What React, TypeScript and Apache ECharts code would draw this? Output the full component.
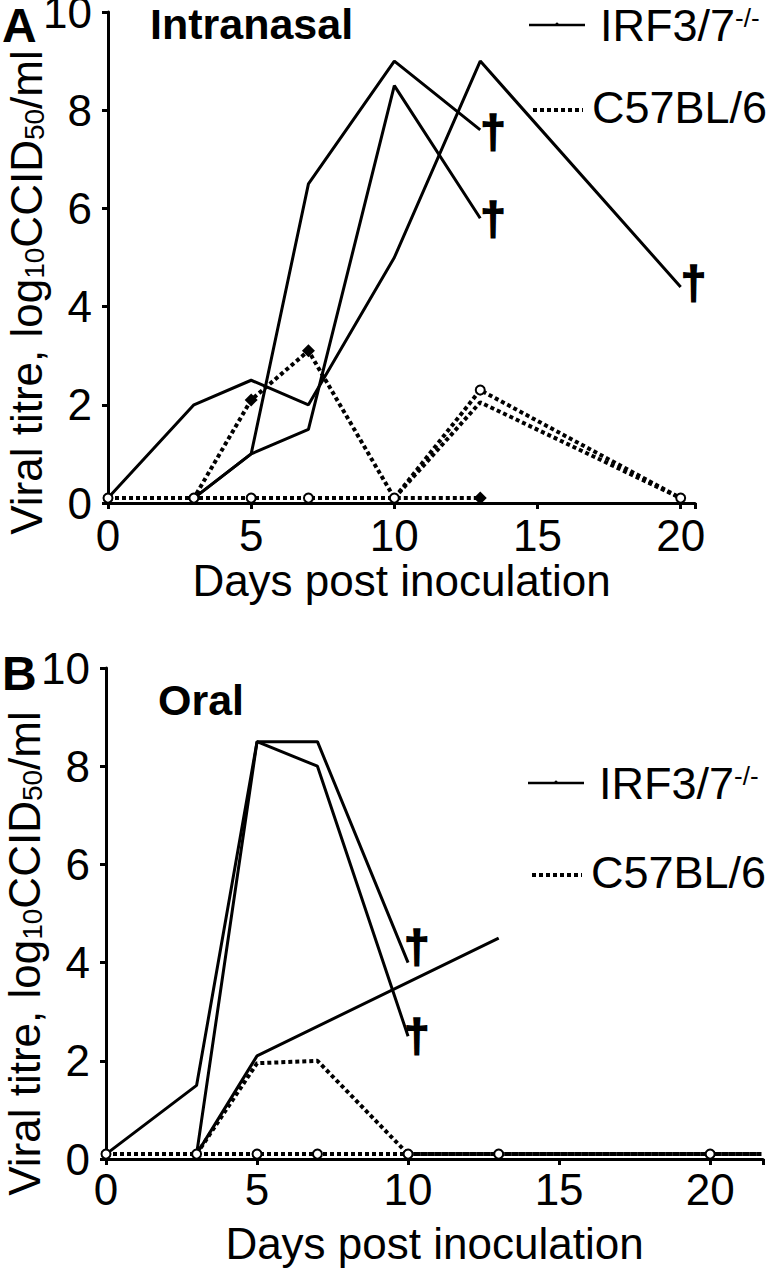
import React, { useEffect, useRef } from "react";
import * as echarts from "echarts";

// ---------- data ----------
const xTicks = [0, 5, 10, 15, 20];
const yTicks = [0, 2, 4, 6, 8, 10];

// Panel A – Intranasal (day, log10 CCID50/ml)
const irfA1 = [[0, 0.1], [3, 2.0], [5, 2.5], [7, 2.0], [10, 5.0], [13, 9.0], [20, 4.4]];
const irfA2 = [[3, 0.1], [5, 1.0], [7, 6.5], [10, 9.0], [13, 7.6]];
const irfA3 = [[3, 0.1], [5, 1.0], [7, 1.5], [10, 8.5], [13, 5.8]];
const c57A1 = [[0, 0.1], [3, 0.1], [5, 2.1], [7, 3.1], [10, 0.1], [13, 0.1]];
const c57A1Marked = [5, 7, 13];
const c57A2 = [[0, 0.1], [3, 0.1], [5, 0.1], [7, 0.1], [10, 0.1], [13, 2.3], [20, 0.1]];
const c57A2Marked = [0, 3, 5, 7, 10, 13, 20];
const c57A3 = [[10, 0.1], [13, 2.05], [20, 0.1]];

// Panel B – Oral
const irfB1 = [[0, 0.1], [3, 1.5], [5, 8.5], [7, 8.5], [10, 4.0]];
const irfB2 = [[3, 0.1], [5, 8.5], [7, 8.0], [10, 2.5]];
const irfB3 = [[3, 0.1], [5, 2.1], [13, 4.5]];
const c57B1 = [[0, 0.1], [3, 0.1], [5, 1.95], [7, 2.0], [10, 0.1], [13, 0.1], [20, 0.1], [21.7, 0.1]];
const c57B2 = [[0, 0.1], [3, 0.1], [5, 0.1], [7, 0.1], [10, 0.1], [13, 0.1], [20, 0.1], [21.7, 0.1]];
const c57B2Marked = [0, 3, 5, 7, 10, 13, 20];

const FONT = "Liberation Sans, Arial, sans-serif";
const BLACK = "#000";

function solid(data: number[][], gi: number, dagger?: number[]) {
  return {
    type: "line",
    xAxisIndex: gi,
    yAxisIndex: gi,
    data,
    showSymbol: false,
    symbol: "none",
    lineStyle: { color: BLACK, width: 3 },
    z: 3,
    endLabel: dagger
      ? {
          show: true,
          formatter: "\u2020",
          distance: 2,
          offset: dagger,
          fontSize: 46,
          fontWeight: 900,
          fontFamily: FONT,
          color: BLACK,
          textBorderColor: BLACK,
          textBorderWidth: 1.5,
        }
      : { show: false },
  };
}

function dotted(data: number[][], gi: number, symbol: string, marked: number[] | null, size: number) {
  return {
    type: "line",
    xAxisIndex: gi,
    yAxisIndex: gi,
    symbol,
    symbolSize: 0,
    showSymbol: true,
    data: data.map((p) =>
      marked && marked.indexOf(p[0]) >= 0 ? { value: p, symbolSize: size } : { value: p, symbolSize: 0 }
    ),
    lineStyle: { color: BLACK, width: 4, type: [4, 3] },
    itemStyle: { color: BLACK, borderWidth: symbol === "emptyCircle" ? 2 : 0 },
    z: 4,
  };
}

function xAxis(gi: number, max: number, gap: number, margin: number) {
  return {
    type: "value",
    gridIndex: gi,
    min: 0,
    max,
    interval: 5,
    name: "Days post inoculation",
    nameLocation: "middle",
    nameGap: gap,
    nameMoveOverlap: false,
    nameTextStyle: { fontSize: 44, color: BLACK, fontFamily: FONT },
    axisLine: { show: true, lineStyle: { color: BLACK, width: 3 } },
    axisTick: { show: true, length: 6, lineStyle: { color: BLACK, width: 3 } },
    axisLabel: {
      fontSize: 44,
      color: BLACK,
      fontFamily: FONT,
      margin,
      formatter: (v: number) => (xTicks.indexOf(v) >= 0 ? String(v) : ""),
    },
    splitLine: { show: false },
  };
}

function yAxis(gi: number, shift: number) {
  return {
    type: "value",
    gridIndex: gi,
    min: 0,
    max: 10,
    interval: 2,
    name: "{n|Viral titre, log}{s|10}{n|CCID}{s|50}{n|/ml}",
    nameLocation: "middle",
    nameRotate: 90,
    nameGap: 60,
    nameMoveOverlap: false,
    nameTextStyle: {
      fontFamily: FONT,
      color: BLACK,
      padding: [0, shift, 0, 0],
      rich: {
        n: { fontSize: 44, lineHeight: 44, fontFamily: FONT, color: BLACK },
        s: { fontSize: 28, lineHeight: 20, verticalAlign: "bottom", fontFamily: FONT, color: BLACK },
      },
    },
    axisLine: { show: true, lineStyle: { color: BLACK, width: 3 } },
    axisTick: { show: true, length: 6, lineStyle: { color: BLACK, width: 3 } },
    axisLabel: {
      fontSize: 44,
      lineHeight: 24,
      padding: [8, 0, 0, 0],
      color: BLACK,
      fontFamily: FONT,
      margin: 16,
      formatter: (v: number) => (yTicks.indexOf(v) >= 0 ? String(v) : ""),
    },
    splitLine: { show: false },
  };
}

function legend(ySolid: number, yDash: number, x0: number) {
  const supRich = {
    a: { fontSize: 45, lineHeight: 40, fontFamily: FONT, fill: BLACK },
    b: { fontSize: 26, lineHeight: 18, verticalAlign: "top", fontFamily: FONT, fill: BLACK },
  };
  return [
    { type: "line", shape: { x1: x0, y1: ySolid, x2: x0 + 56, y2: ySolid }, style: { stroke: BLACK, lineWidth: 2.5 } },
    { type: "circle", shape: { cx: x0 + 28, cy: ySolid - 1, r: 1.5 }, style: { fill: BLACK } },
    {
      type: "text",
      x: x0 + 71,
      y: ySolid,
      style: { text: "{a|IRF3/7}{b|-/-}", rich: supRich, align: "left", verticalAlign: "middle" },
    },
    {
      type: "line",
      shape: { x1: x0 + 4, y1: yDash, x2: x0 + 54, y2: yDash },
      style: { stroke: BLACK, lineWidth: 4, lineDash: [4, 3] },
    },
    {
      type: "text",
      x: x0 + 63,
      y: yDash - 3,
      style: { text: "C57BL/6", fontSize: 45, lineHeight: 40, fontFamily: FONT, fill: BLACK, align: "left", verticalAlign: "middle" },
    },
  ];
}

function label(text: string, x: number, y: number, size: number) {
  return {
    type: "text",
    x,
    y,
    style: {
      text,
      fontSize: size,
      lineHeight: 40,
      fontWeight: "bold",
      fontFamily: FONT,
      fill: BLACK,
      align: "left",
      verticalAlign: "middle",
    },
  };
}

export default function App() {
  const ref = useRef<HTMLDivElement>(null);
  useEffect(() => {
    if (!ref.current) return;
    const chart = echarts.init(ref.current, null, { renderer: "svg" });
    chart.setOption({
      animation: false,
      backgroundColor: "#fff",
      grid: [
        { left: 108, top: 12, width: 587, height: 491, outerBoundsMode: "none", containLabel: false },
        { left: 106, top: 668, width: 657, height: 491, outerBoundsMode: "none", containLabel: false },
      ],
      xAxis: [xAxis(0, 20.5, 55, 10), xAxis(1, 21.75, 62, 8)],
      yAxis: [yAxis(0, 70), yAxis(1, 80)],
      series: [
        solid(irfA1, 0, [-2, -4]),
        solid(irfA2, 0, [-2, 2]),
        solid(irfA3, 0, [-2, 1]),
        dotted(c57A3, 0, "emptyCircle", null, 0),
        dotted(c57A1, 0, "diamond", c57A1Marked, 13),
        dotted(c57A2, 0, "emptyCircle", c57A2Marked, 9),
        solid(irfB1, 1, [-6, -16]),
        solid(irfB2, 1, [-6, 0]),
        solid(irfB3, 1),
        dotted(c57B1, 1, "emptyCircle", null, 0),
        dotted(c57B2, 1, "emptyCircle", c57B2Marked, 9),
      ],
      graphic: [
        label("A", 2, 25, 48),
        label("Intranasal", 150, 24, 43),
        label("B", 2, 673, 48),
        label("Oral", 158, 700, 43),
        ...legend(25, 110, 529),
        ...legend(783, 875, 528),
      ],
    });
    return () => chart.dispose();
  }, []);
  return <div ref={ref} style={{ position: "absolute", left: 0, top: 0, width: 772, height: 1279, background: "#fff" }} />;
}
